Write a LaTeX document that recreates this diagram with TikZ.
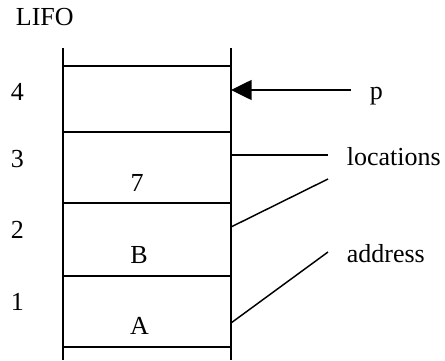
\documentclass[tikz,border=0pt]{standalone}
\usepackage{fontspec}
\setmainfont{Liberation Serif}
\usetikzlibrary{arrows.meta}
\begin{document}
\begin{tikzpicture}[x=0.75pt,y=-0.75pt,line width=1.3pt,
  lbl/.style={inner sep=0pt,anchor=base west,font=\fontsize{19.5}{23}\selectfont},
  ctr/.style={inner sep=0pt,anchor=base,font=\fontsize{19.5}{23}\selectfont},
  conn/.style={line width=1.1pt},
  ptr/.style={line width=1.1pt,-{Triangle[length=15.5pt,width=15pt]}}]
\useasboundingbox (0,0) rectangle (445,360);
% stack frame
\draw (63,48) -- (63,360);
\draw (231,48) -- (231,360);
\foreach \yy in {66,132,203,276,347} \draw (63,\yy) -- (231,\yy);
% labels
\node[lbl] (lifo) at (15,26) {LIFO};
\node[lbl] (n4) at (10,100) {4};
\node[lbl] (n3) at (10,167) {3};
\node[lbl] (n2) at (10,238) {2};
\node[lbl] (n1) at (10,310) {1};
\node[ctr] (v7) at (137,191) {7};
\node[ctr] (vB) at (139,263) {B};
\node[ctr] (vA) at (139.5,334) {A};
\node[lbl] (p) at (369,99) {p};
\node[lbl] (loc) at (346,165) {locations};
\node[lbl] (addr) at (346,262) {address};
% connectors
\coordinate (pS) at (351,90);
\coordinate (pT) at (231,90);
\draw[ptr] (pS) -- (pT);
\coordinate (l1a) at (231,155);
\coordinate (l1b) at (328,155);
\draw[conn] (l1a) -- (l1b);
\coordinate (l2a) at (231,227);
\coordinate (l2b) at (328,179);
\draw[conn] (l2a) -- (l2b);
\coordinate (l3a) at (231,323);
\coordinate (l3b) at (328,252);
\draw[conn] (l3a) -- (l3b);
\end{tikzpicture}
\end{document}
